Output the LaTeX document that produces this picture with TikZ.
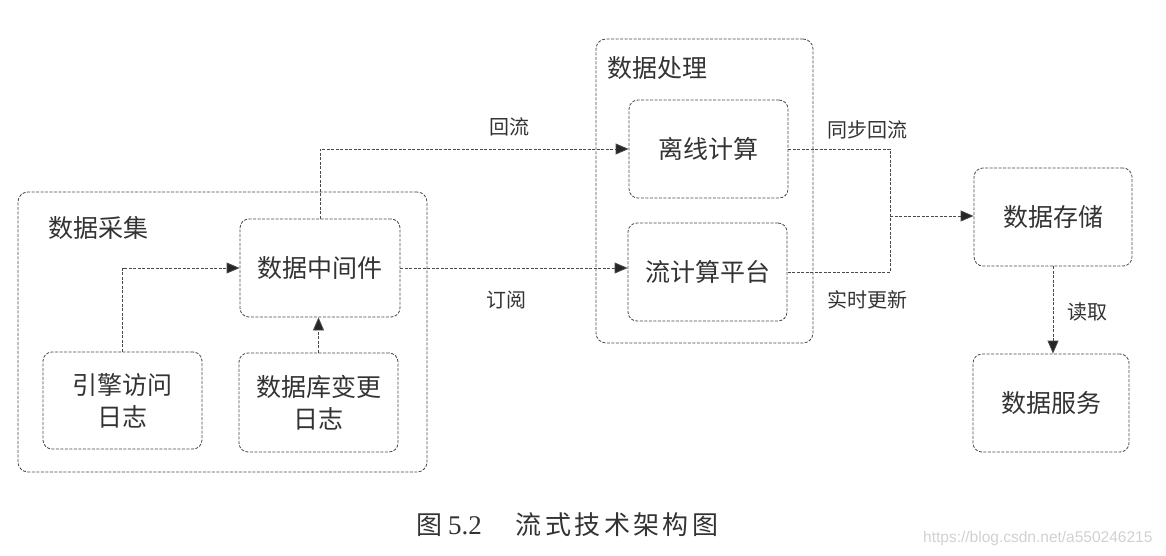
\documentclass[tikz,border=0pt]{standalone}
\usepackage{fontspec}
\setmainfont{Liberation Serif}
\newfontfamily\cjk{Noto Sans CJK SC}
\newfontfamily\cjkcap{Noto Sans CJK SC}[LetterSpace=13]
\newfontfamily\wmfont{Liberation Sans}
\usetikzlibrary{arrows.meta}
\definecolor{ink}{HTML}{333333}
\definecolor{edge}{HTML}{4A4A4A}
\tikzset{
  line/.style={draw=edge, line width=0.8pt, dash pattern=on 3pt off 1.5pt},
  box/.style={line, rounded corners=9pt, inner sep=0pt, text=ink,
    font=\cjk\fontsize{25}{32}\selectfont, align=center},
  grp/.style={line, rounded corners=10pt, inner sep=0pt},
  grplabel/.style={text=ink, font=\cjk\fontsize{25}{30}\selectfont, inner sep=0pt, anchor=west},
  elabel/.style={text=ink, font=\cjk\fontsize{20}{24}\selectfont, inner sep=0pt},
  arr/.style={line, -{Triangle[length=13pt,width=11pt,fill=black!85]}},
}
\begin{document}
\begin{tikzpicture}[x=1pt,y=-1pt]
\useasboundingbox (0,0) rectangle (1166,556);
% groups
\node[grp, minimum width=409pt, minimum height=280pt] (collect) at (222.5,332) {};
\node[grplabel] (collectlbl) at (48,228) {数据采集};
\node[grp, minimum width=217pt, minimum height=304pt] (proc) at (704.5,191) {};
\node[grplabel] (proclbl) at (607,68) {数据处理};
% boxes
\node[box, minimum width=160pt, minimum height=98pt] (mid) at (320,268) {数据中间件};
\node[box, minimum width=159pt, minimum height=97pt] (engine) at (122.5,400.5) {引擎访问\\日志};
\node[box, minimum width=159pt, minimum height=99pt] (dbchg) at (318.5,402.5) {数据库变更\\日志};
\node[box, minimum width=159pt, minimum height=98pt] (offline) at (708.5,149) {离线计算};
\node[box, minimum width=159pt, minimum height=98pt] (stream) at (707.5,272) {流计算平台};
\node[box, minimum width=158pt, minimum height=98pt] (store) at (1053,217) {数据存储};
\node[box, minimum width=156pt, minimum height=98pt] (serve) at (1051,403) {数据服务};
% connectors
\draw[arr] (engine.north) |- (mid.west);
\draw[arr] (dbchg.north) -- (dbchg.north |- mid.south);
\draw[arr] (mid.north) |- (offline.west);
\draw[arr] (mid.east) -- (mid.east -| stream.west);
\coordinate (join) at (890,216);
\draw[line] (offline.east) -| (join) |- (stream.east);
\draw[arr] (join) -- (join -| store.west);
\draw[arr] (store.south) -- (store.south |- serve.north);
% edge labels
\node[elabel] (lbl1) at (509,127) {回流};
\node[elabel] (lbl2) at (506,300) {订阅};
\node[elabel] (lbl3) at (867,130) {同步回流};
\node[elabel] (lbl4) at (867,300) {实时更新};
\node[elabel] (lbl5) at (1087,312) {读取};
% caption
\node[text=ink, inner sep=0pt, anchor=west] (cap) at (416,525)
  {{\cjk\fontsize{26}{30}\selectfont 图}\hspace{6pt}{\fontsize{27}{30}\selectfont 5.2}\hspace{34pt}{\cjkcap\fontsize{26}{30}\selectfont 流式技术架构图}};
\node[text=black!18, inner sep=0pt, anchor=west, font=\wmfont\fontsize{15.5}{18}\selectfont] (wm) at (923,538) {https://blog.csdn.net/a550246215};
\end{tikzpicture}
\end{document}
